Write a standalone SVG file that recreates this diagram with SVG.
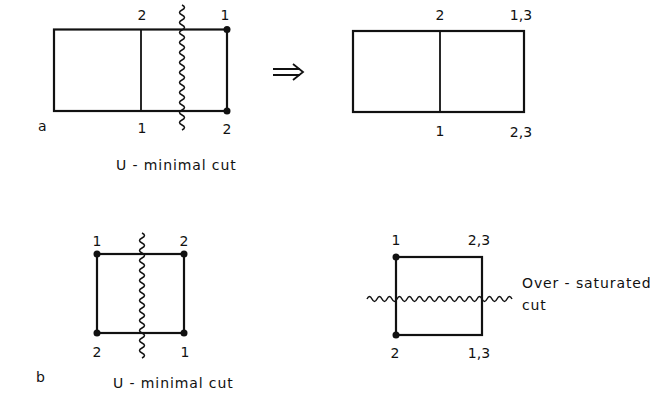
<svg xmlns="http://www.w3.org/2000/svg" width="659" height="393" viewBox="0 0 659 393">
<style>
.e{fill:none;stroke:#111;stroke-width:2.2;stroke-linecap:square}
.m{fill:none;stroke:#111;stroke-width:1.8}
.w{fill:none;stroke:#111;stroke-width:1.5}
.d{fill:#111}
text{font-family:"DejaVu Sans","Liberation Sans",sans-serif;font-size:14px;fill:#111}
.c{text-anchor:middle}
.cap{font-size:14px;letter-spacing:0.9px}
</style>
<rect width="659" height="393" fill="#fff"/>
<g id="graph-a-left">
<rect class="e" x="54" y="29.5" width="173" height="81.5"/>
<line class="m" x1="141" y1="29.5" x2="141" y2="111"/>
<circle class="d" cx="227" cy="29.5" r="3.5"/>
<circle class="d" cx="227" cy="111" r="3.5"/>
<text class="c" x="142" y="20">2</text>
<text class="c" x="225" y="20">1</text>
<text class="c" x="142" y="133">1</text>
<text class="c" x="227" y="134">2</text>
</g>
<g id="graph-a-right">
<rect class="e" x="353" y="31" width="171" height="81"/>
<line class="m" x1="440" y1="31" x2="440" y2="112"/>
<text class="c" x="440" y="20">2</text>
<text class="c" x="521" y="20">1,3</text>
<text class="c" x="440" y="136">1</text>
<text class="c" x="521" y="137">2,3</text>
</g>
<g id="graph-b-left">
<rect class="e" x="97" y="254" width="87" height="79"/>
<circle class="d" cx="97" cy="254" r="3.5"/>
<circle class="d" cx="184" cy="254" r="3.5"/>
<circle class="d" cx="97" cy="333" r="3.5"/>
<circle class="d" cx="184" cy="333" r="3.5"/>
<text class="c" x="97" y="246">1</text>
<text class="c" x="184" y="246">2</text>
<text class="c" x="97" y="357">2</text>
<text class="c" x="185" y="357">1</text>
</g>
<g id="graph-b-right">
<rect class="e" x="396" y="257" width="86" height="78"/>
<circle class="d" cx="396" cy="257" r="3.5"/>
<circle class="d" cx="396" cy="335" r="3.5"/>
<text class="c" x="396" y="245">1</text>
<text class="c" x="479" y="245">2,3</text>
<text class="c" x="395" y="358">2</text>
<text class="c" x="479" y="358">1,3</text>
</g>
<g id="connectors">
<path class="w" d="M182,5 q5,2.5 0,5 t0,5 t0,5 t0,5 t0,5 t0,5 t0,5 t0,5 t0,5 t0,5 t0,5 t0,5 t0,5 t0,5 t0,5 t0,5 t0,5 t0,5 t0,5 t0,5 t0,5 t0,5 t0,5 t0,5 t0,5"/>
<path class="w" d="M142,233 q5,2.5 0,5 t0,5 t0,5 t0,5 t0,5 t0,5 t0,5 t0,5 t0,5 t0,5 t0,5 t0,5 t0,5 t0,5 t0,5 t0,5 t0,5 t0,5 t0,5 t0,5 t0,5 t0,5 t0,5 t0,5 t0,5"/>
<path class="w" d="M367,299 q2.5,-5 5,0 t5,0 t5,0 t5,0 t5,0 t5,0 t5,0 t5,0 t5,0 t5,0 t5,0 t5,0 t5,0 t5,0 t5,0 t5,0 t5,0 t5,0 t5,0 t5,0 t5,0 t5,0 t5,0 t5,0 t5,0 t5,0 t5,0 t5,0 t5,0"/>
<path class="m" d="M273,69 H300 M273,75 H300 M293,64 L303,72 L293,80"/>
</g>
<g id="labels">
<text x="38" y="131">a</text>
<text x="36" y="382">b</text>
<text class="cap" x="116" y="170">U - minimal cut</text>
<text class="cap" x="113" y="388">U - minimal cut</text>
<text class="cap" x="522" y="288">Over - saturated</text>
<text class="cap" x="522" y="310">cut</text>
</g>
</svg>
